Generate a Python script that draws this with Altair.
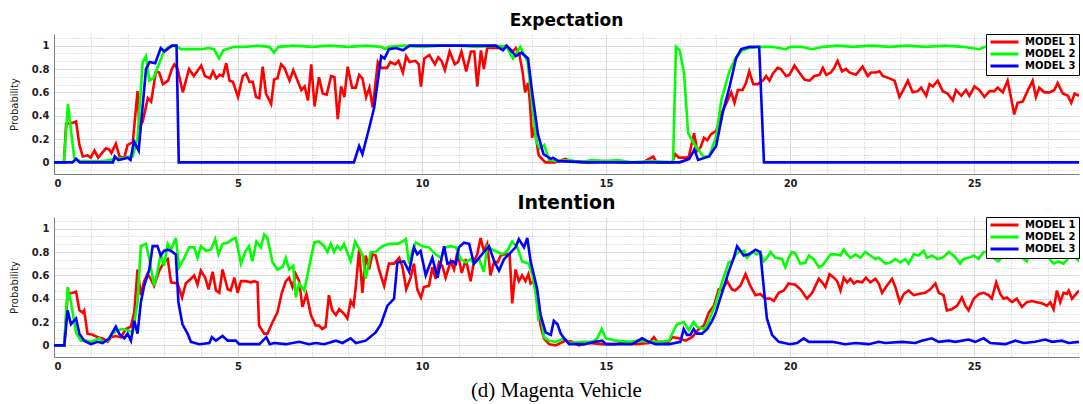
import altair as alt
import pandas as pd

MODELS = ["MODEL 1", "MODEL 2", "MODEL 3"]
COLORS = ["#ff0000", "#00ff00", "#0000ff"]
PANELS = ["Expectation", "Intention"]
CAPTION = "(d) Magenta Vehicle"

# ---------------- Expectation ----------------
EXP_M1 = [(0,0),(0.27,0),(0.33,0.33),(0.51,0.34),(0.6,0.35),(0.69,0.15),(0.78,0.05),(0.91,0.06),(1.0,0.04),(1.1,0.1),(1.2,0.04),(1.41,0.12),(1.5,0.11),(1.56,0.08),(1.68,0.16),(1.78,0.05),(1.91,0.04),(2.0,0.15),(2.14,0.17),(2.27,0.61),(2.32,0.3),(2.41,0.35),(2.55,0.55),(2.64,0.52),(2.77,0.78),(2.86,0.77),(2.96,0.67),(3.1,0.7),(3.2,0.8),(3.27,0.84),(3.36,0.8),(3.5,0.6),(3.6,0.72),(3.67,0.8),(3.8,0.74),(4.0,0.83),(4.1,0.74),(4.24,0.72),(4.32,0.78),(4.41,0.72),(4.5,0.75),(4.59,0.74),(4.68,0.85),(4.77,0.7),(4.86,0.69),(5.0,0.56),(5.13,0.74),(5.22,0.76),(5.31,0.69),(5.4,0.69),(5.49,0.56),(5.58,0.55),(5.67,0.82),(5.76,0.59),(5.9,0.5),(5.98,0.71),(6.07,0.72),(6.17,0.84),(6.26,0.81),(6.4,0.7),(6.5,0.79),(6.62,0.7),(6.72,0.62),(6.81,0.65),(6.9,0.53),(6.99,0.84),(7.08,0.48),(7.2,0.73),(7.3,0.59),(7.41,0.58),(7.53,0.74),(7.62,0.73),(7.71,0.37),(7.8,0.65),(7.89,0.56),(7.98,0.82),(8.1,0.64),(8.2,0.64),(8.29,0.75),(8.38,0.72),(8.48,0.56),(8.57,0.64),(8.66,0.47),(8.8,0.86),(8.89,0.81),(9.05,0.81),(9.14,0.86),(9.27,0.84),(9.36,0.87),(9.48,0.77),(9.57,0.91),(9.66,0.86),(9.82,0.87),(9.91,0.84),(9.97,0.65),(10.06,0.89),(10.2,0.92),(10.35,0.84),(10.44,0.9),(10.53,0.87),(10.62,0.79),(10.75,0.95),(10.89,0.84),(10.98,0.86),(11.07,0.95),(11.2,0.78),(11.33,0.95),(11.42,0.95),(11.5,0.65),(11.6,0.96),(11.68,0.8),(11.77,0.98),(11.9,0.98),(12.1,0.98),(12.28,1.0),(12.47,0.95),(12.55,0.98),(12.64,0.93),(12.73,0.78),(12.8,0.6),(12.88,0.68),(12.93,0.52),(12.99,0.21),(13.05,0.3),(13.17,0.06),(13.35,0),(13.6,0),(13.9,0.03),(14.05,0.01),(14.5,0),(15.0,0.01),(15.5,0),(16.0,0),(16.28,0.05),(16.37,0),(16.8,0),(16.88,0.07),(16.98,0.04),(17.16,0.04),(17.25,0.05),(17.39,0.25),(17.48,0.1),(17.57,0.13),(17.66,0.21),(17.75,0.19),(17.85,0.24),(17.99,0.27),(18.17,0.44),(18.26,0.5),(18.4,0.6),(18.49,0.51),(18.58,0.62),(18.71,0.62),(18.8,0.68),(18.89,0.78),(19.0,0.67),(19.12,0.67),(19.26,0.7),(19.35,0.74),(19.44,0.7),(19.53,0.76),(19.66,0.81),(19.75,0.8),(19.89,0.74),(19.98,0.75),(20.12,0.83),(20.25,0.77),(20.39,0.71),(20.53,0.7),(20.66,0.74),(20.8,0.75),(20.89,0.81),(20.98,0.75),(21.11,0.77),(21.2,0.81),(21.29,0.87),(21.41,0.78),(21.52,0.8),(21.61,0.77),(21.79,0.75),(21.97,0.82),(22.11,0.74),(22.2,0.77),(22.34,0.77),(22.43,0.78),(22.52,0.74),(22.7,0.72),(22.84,0.7),(22.97,0.56),(23.06,0.61),(23.2,0.7),(23.33,0.6),(23.47,0.61),(23.56,0.64),(23.7,0.57),(23.79,0.67),(23.88,0.65),(24.01,0.7),(24.15,0.61),(24.28,0.59),(24.42,0.53),(24.51,0.62),(24.65,0.57),(24.78,0.62),(24.87,0.57),(25.01,0.65),(25.14,0.62),(25.28,0.56),(25.42,0.61),(25.55,0.61),(25.64,0.64),(25.78,0.6),(25.91,0.7),(26.0,0.56),(26.09,0.41),(26.18,0.51),(26.32,0.52),(26.45,0.61),(26.59,0.7),(26.68,0.56),(26.77,0.64),(26.91,0.6),(27.05,0.6),(27.18,0.62),(27.27,0.68),(27.41,0.59),(27.55,0.57),(27.64,0.51),(27.73,0.59),(27.85,0.57)]

EXP_M2 = [(0,0),(0.27,0),(0.38,0.5),(0.47,0.25),(0.55,0.04),(0.7,0.01),(1.0,0.01),(1.3,0.01),(1.5,0.02),(1.7,0.03),(1.9,0.04),(2.05,0.05),(2.14,0.05),(2.27,0.21),(2.41,0.86),(2.5,0.91),(2.59,0.7),(2.7,0.72),(2.86,0.85),(3.0,0.96),(3.13,0.99),(3.3,1.0),(3.45,0.97),(3.7,0.97),(4.0,0.97),(4.2,0.98),(4.35,0.97),(4.48,0.89),(4.6,0.96),(4.68,0.97),(4.9,0.99),(5.2,0.99),(5.5,1.0),(5.85,0.99),(5.98,0.94),(6.1,0.99),(6.5,1.0),(7.0,0.99),(7.5,1.0),(8.0,0.99),(8.5,1.0),(8.9,0.99),(9.0,0.97),(9.1,0.99),(9.5,1.0),(10.0,0.99),(10.5,1.0),(11.0,1.0),(11.5,0.99),(12.0,1.0),(12.3,0.99),(12.47,0.89),(12.67,0.99),(12.87,0.86),(13.1,0.18),(13.2,0.12),(13.32,0.15),(13.45,0.02),(13.7,0.01),(14.0,0.02),(14.3,0.0),(14.6,0.02),(15.0,0.01),(15.3,0.02),(15.7,0.0),(16.2,0.01),(16.82,0),(16.9,0.99),(17.0,0.96),(17.12,0.76),(17.23,0.25),(17.37,0.17),(17.64,0.05),(17.8,0.05),(17.99,0.22),(18.13,0.53),(18.35,0.78),(18.53,0.9),(18.7,0.96),(18.9,0.98),(19.16,0.99),(19.5,0.99),(19.89,0.97),(20.0,0.99),(20.3,0.99),(20.6,0.97),(20.9,0.99),(21.3,1.0),(21.7,0.99),(22.2,1.0),(22.7,0.99),(23.2,1.0),(23.7,0.99),(24.2,1.0),(24.7,0.99),(25.14,0.97),(25.3,0.99),(25.8,1.0),(26.3,0.99),(26.8,0.98),(27.3,0.98),(27.85,0.97)]

EXP_M3 = [(0,0),(0.5,0),(0.6,0.03),(0.7,0),(1.6,0),(1.65,0.05),(1.75,0.02),(1.9,0.03),(2.0,0.04),(2.08,0.02),(2.17,0.18),(2.3,0.1),(2.5,0.8),(2.6,0.86),(2.75,0.85),(2.9,0.98),(3.0,0.95),(3.2,1.0),(3.33,1.0),(3.39,0),(8.15,0),(8.2,0.05),(8.29,0.14),(8.38,0.07),(8.56,0.29),(8.7,0.47),(8.89,0.91),(8.98,0.89),(9.1,0.97),(9.3,0.98),(9.48,0.96),(9.66,1.0),(10.0,1.0),(11.0,1.0),(12.0,1.0),(12.2,0.96),(12.3,1.0),(12.55,0.91),(12.7,0.94),(12.88,0.89),(13.0,0.58),(13.15,0.24),(13.3,0.07),(13.5,0.03),(13.56,0.04),(13.7,0.01),(14.5,0),(16.5,0),(17.0,0),(17.26,0.03),(17.4,0.11),(17.5,0.02),(17.8,0.05),(17.99,0.14),(18.18,0.44),(18.35,0.64),(18.53,0.89),(18.67,0.97),(18.9,0.99),(19.16,0.99),(19.29,0),(27.85,0)]

# ---------------- Intention ----------------
INT_M1 = [(0,0),(0.28,0),(0.37,0.44),(0.51,0.45),(0.6,0.46),(0.69,0.3),(0.78,0.28),(0.82,0.3),(0.91,0.1),(1.05,0.09),(1.19,0.07),(1.32,0.06),(1.46,0.03),(1.55,0.07),(1.68,0.08),(1.82,0.07),(1.95,0.14),(2.09,0.16),(2.18,0.28),(2.27,0.65),(2.36,0.43),(2.45,0.55),(2.54,0.61),(2.63,0.57),(2.72,0.51),(2.86,0.64),(3.0,0.72),(3.09,0.74),(3.18,0.54),(3.36,0.53),(3.48,0.41),(3.58,0.53),(3.72,0.57),(3.81,0.6),(3.9,0.52),(3.99,0.64),(4.11,0.58),(4.2,0.48),(4.31,0.63),(4.4,0.47),(4.49,0.45),(4.58,0.65),(4.72,0.48),(4.8,0.47),(4.9,0.58),(4.99,0.45),(5.08,0.55),(5.21,0.55),(5.35,0.54),(5.44,0.55),(5.53,0.54),(5.57,0.17),(5.71,0.1),(5.8,0.1),(5.94,0.2),(6.07,0.28),(6.19,0.45),(6.3,0.55),(6.39,0.58),(6.48,0.5),(6.57,0.61),(6.66,0.55),(6.75,0.33),(6.86,0.44),(6.98,0.26),(7.11,0.17),(7.2,0.17),(7.29,0.14),(7.38,0.16),(7.47,0.43),(7.56,0.3),(7.66,0.26),(7.75,0.31),(7.88,0.27),(7.97,0.23),(8.06,0.38),(8.14,0.34),(8.2,0.5),(8.29,0.82),(8.38,0.45),(8.47,0.77),(8.56,0.65),(8.65,0.78),(8.74,0.77),(8.83,0.65),(8.97,0.51),(9.1,0.7),(9.24,0.7),(9.38,0.75),(9.47,0.67),(9.57,0.48),(9.69,0.58),(9.78,0.7),(9.87,0.48),(9.97,0.41),(10.05,0.5),(10.19,0.51),(10.28,0.67),(10.37,0.57),(10.46,0.71),(10.55,0.68),(10.64,0.58),(10.78,0.72),(10.87,0.65),(10.96,0.8),(11.08,0.62),(11.19,0.74),(11.32,0.55),(11.41,0.72),(11.5,0.78),(11.59,0.92),(11.68,0.81),(11.77,0.87),(11.86,0.6),(11.96,0.72),(12.05,0.71),(12.14,0.77),(12.27,0.78),(12.38,0.78),(12.45,0.36),(12.54,0.65),(12.63,0.55),(12.72,0.6),(12.81,0.55),(12.89,0.61),(12.95,0.53),(13.04,0.55),(13.13,0.43),(13.22,0.17),(13.31,0.06),(13.45,0.01),(13.63,0.0),(13.9,0.04),(14.08,0.03),(14.26,0),(14.54,0.02),(14.9,0.01),(15.26,0.01),(15.53,0.03),(15.8,0.01),(16.17,0.02),(16.3,0.07),(16.39,0.03),(16.7,0.03),(16.8,0.07),(16.98,0.06),(17.16,0.04),(17.34,0.07),(17.52,0.14),(17.66,0.17),(17.79,0.28),(17.93,0.34),(18.06,0.48),(18.15,0.47),(18.29,0.55),(18.42,0.48),(18.51,0.47),(18.65,0.51),(18.79,0.61),(18.92,0.51),(19.06,0.43),(19.19,0.44),(19.33,0.4),(19.46,0.4),(19.56,0.38),(19.69,0.45),(19.83,0.47),(19.96,0.53),(20.14,0.52),(20.28,0.48),(20.37,0.44),(20.46,0.4),(20.6,0.45),(20.78,0.57),(20.87,0.54),(20.96,0.5),(21.07,0.61),(21.19,0.58),(21.28,0.55),(21.37,0.47),(21.46,0.58),(21.55,0.54),(21.64,0.57),(21.73,0.53),(21.82,0.55),(21.96,0.54),(22.06,0.58),(22.18,0.54),(22.32,0.57),(22.41,0.53),(22.5,0.45),(22.63,0.51),(22.77,0.57),(22.86,0.5),(22.98,0.37),(23.09,0.44),(23.22,0.47),(23.36,0.43),(23.49,0.44),(23.67,0.45),(23.81,0.48),(23.95,0.53),(24.04,0.45),(24.17,0.43),(24.26,0.3),(24.4,0.31),(24.54,0.34),(24.67,0.41),(24.76,0.34),(24.85,0.3),(24.99,0.4),(25.13,0.44),(25.26,0.45),(25.39,0.43),(25.48,0.4),(25.6,0.54),(25.71,0.44),(25.8,0.4),(25.89,0.41),(26.03,0.37),(26.16,0.4),(26.3,0.33),(26.43,0.37),(26.57,0.38),(26.7,0.37),(26.84,0.36),(26.98,0.34),(27.07,0.37),(27.16,0.31),(27.25,0.47),(27.34,0.37),(27.43,0.45),(27.52,0.44),(27.57,0.47),(27.66,0.4),(27.85,0.47)]

INT_M2 = [(0,0),(0.28,0),(0.37,0.5),(0.46,0.37),(0.6,0.11),(0.73,0.04),(0.87,0.04),(1.0,0.03),(1.23,0.06),(1.32,0.03),(1.46,0.04),(1.59,0.1),(1.73,0.13),(1.86,0.14),(2.0,0.13),(2.14,0.11),(2.27,0.37),(2.36,0.85),(2.5,0.87),(2.59,0.74),(2.72,0.51),(2.81,0.63),(2.9,0.78),(2.99,0.68),(3.09,0.87),(3.18,0.82),(3.31,0.92),(3.4,0.67),(3.54,0.75),(3.67,0.84),(3.81,0.84),(3.9,0.75),(3.99,0.85),(4.13,0.81),(4.26,0.82),(4.38,0.91),(4.47,0.78),(4.58,0.87),(4.72,0.88),(4.85,0.91),(4.94,0.92),(5.08,0.7),(5.21,0.81),(5.3,0.85),(5.39,0.72),(5.5,0.89),(5.62,0.84),(5.71,0.95),(5.8,0.92),(5.94,0.71),(6.07,0.65),(6.21,0.67),(6.3,0.75),(6.39,0.65),(6.5,0.68),(6.57,0.41),(6.66,0.53),(6.8,0.47),(6.93,0.67),(7.07,0.88),(7.2,0.89),(7.34,0.85),(7.43,0.8),(7.52,0.87),(7.61,0.8),(7.7,0.85),(7.79,0.82),(7.88,0.87),(8.06,0.72),(8.18,0.89),(8.38,0.78),(8.47,0.57),(8.61,0.8),(8.74,0.8),(8.92,0.85),(9.1,0.87),(9.33,0.87),(9.47,0.89),(9.56,0.91),(9.65,0.7),(9.74,0.81),(9.83,0.88),(10.01,0.85),(10.19,0.84),(10.37,0.78),(10.51,0.75),(10.64,0.84),(10.78,0.85),(10.92,0.84),(11.05,0.74),(11.19,0.71),(11.32,0.74),(11.41,0.7),(11.55,0.74),(11.68,0.63),(11.77,0.85),(11.91,0.82),(12.05,0.8),(12.18,0.78),(12.32,0.81),(12.45,0.89),(12.59,0.84),(12.72,0.72),(12.9,0.7),(13.0,0.6),(13.09,0.44),(13.16,0.23),(13.23,0.26),(13.31,0.07),(13.45,0.04),(13.63,0.03),(13.86,0.06),(14.0,0.02),(14.36,0.03),(14.63,0.03),(14.76,0.06),(14.88,0.14),(14.99,0.06),(15.26,0.04),(15.62,0.03),(15.89,0.04),(16.17,0.03),(16.44,0.03),(16.71,0.04),(16.84,0.13),(16.93,0.18),(17.11,0.2),(17.25,0.13),(17.38,0.2),(17.47,0.16),(17.66,0.14),(17.75,0.18),(17.88,0.28),(17.97,0.35),(18.15,0.54),(18.33,0.71),(18.42,0.72),(18.52,0.78),(18.61,0.8),(18.75,0.81),(18.83,0.75),(18.97,0.8),(19.1,0.78),(19.19,0.8),(19.28,0.72),(19.37,0.75),(19.47,0.8),(19.6,0.75),(19.78,0.74),(19.87,0.67),(19.96,0.75),(20.05,0.8),(20.14,0.79),(20.28,0.7),(20.42,0.71),(20.51,0.77),(20.64,0.74),(20.78,0.67),(20.87,0.68),(20.96,0.72),(21.1,0.78),(21.23,0.78),(21.37,0.77),(21.46,0.82),(21.55,0.78),(21.64,0.75),(21.78,0.78),(21.91,0.75),(22.04,0.8),(22.18,0.77),(22.32,0.74),(22.41,0.75),(22.59,0.7),(22.73,0.71),(22.86,0.74),(23.0,0.71),(23.13,0.74),(23.22,0.7),(23.36,0.78),(23.49,0.77),(23.63,0.81),(23.72,0.75),(23.86,0.77),(24.0,0.74),(24.13,0.75),(24.22,0.77),(24.31,0.8),(24.44,0.77),(24.53,0.74),(24.62,0.7),(24.71,0.74),(24.85,0.75),(24.99,0.77),(25.12,0.74),(25.26,0.8),(25.39,0.8),(25.53,0.75),(25.66,0.72),(25.8,0.77),(25.93,0.82),(26.07,0.77),(26.16,0.8),(26.3,0.75),(26.43,0.72),(26.53,0.81),(26.62,0.75),(26.75,0.78),(26.89,0.81),(27.03,0.75),(27.16,0.7),(27.29,0.72),(27.43,0.7),(27.57,0.75),(27.7,0.78),(27.85,0.72)]

INT_M3 = [(0,0),(0.28,0),(0.37,0.3),(0.46,0.18),(0.6,0.23),(0.69,0.1),(0.82,0.04),(1.0,0.01),(1.19,0.03),(1.32,0.02),(1.5,0.06),(1.59,0.11),(1.68,0.16),(1.77,0.1),(1.91,0.06),(2.0,0.1),(2.09,0.04),(2.18,0.21),(2.27,0.1),(2.36,0.37),(2.45,0.51),(2.59,0.65),(2.68,0.85),(2.81,0.85),(2.9,0.77),(2.99,0.81),(3.09,0.82),(3.18,0.81),(3.31,0.78),(3.38,0.37),(3.49,0.18),(3.63,0.1),(3.72,0.03),(3.95,0.01),(4.22,0.02),(4.29,0.07),(4.4,0.04),(4.58,0.08),(4.72,0.04),(4.94,0.04),(5.03,0.01),(5.3,0.01),(5.58,0.01),(5.77,0.07),(5.86,0.01),(5.98,0.02),(6.3,0.01),(6.66,0.03),(6.93,0.01),(7.11,0.02),(7.34,0.01),(7.66,0.04),(7.84,0.02),(8.06,0.06),(8.2,0.02),(8.47,0.04),(8.74,0.11),(8.88,0.18),(9.06,0.34),(9.24,0.4),(9.33,0.71),(9.51,0.72),(9.65,0.63),(9.78,0.84),(9.87,0.78),(9.96,0.81),(10.1,0.6),(10.28,0.75),(10.42,0.58),(10.6,0.85),(10.69,0.7),(10.83,0.72),(10.92,0.7),(11.0,0.84),(11.14,0.88),(11.28,0.87),(11.41,0.7),(11.55,0.75),(11.68,0.8),(11.82,0.85),(11.96,0.72),(12.09,0.64),(12.23,0.74),(12.36,0.78),(12.54,0.84),(12.63,0.91),(12.77,0.84),(12.86,0.92),(12.95,0.72),(13.04,0.6),(13.13,0.48),(13.22,0.26),(13.36,0.11),(13.5,0.09),(13.58,0.21),(13.68,0.18),(13.77,0.1),(13.86,0.06),(14.0,0.01),(14.4,0.01),(14.7,0.03),(14.9,0.04),(14.99,0.01),(15.4,0.01),(15.71,0.01),(15.98,0.06),(16.16,0.03),(16.35,0.01),(16.71,0.01),(17.02,0.03),(17.11,0.14),(17.2,0.09),(17.29,0.09),(17.38,0.14),(17.47,0.1),(17.61,0.1),(17.75,0.14),(17.88,0.21),(17.97,0.27),(18.15,0.45),(18.33,0.63),(18.47,0.75),(18.56,0.85),(18.74,0.77),(18.88,0.78),(19.06,0.82),(19.19,0.8),(19.28,0.51),(19.37,0.23),(19.51,0.09),(19.69,0.03),(20.0,0.01),(20.19,0.02),(20.37,0.06),(20.51,0.03),(20.87,0.03),(21.14,0.03),(21.5,0.01),(21.78,0.02),(22.14,0.01),(22.41,0.03),(22.59,0.02),(23.04,0.03),(23.4,0.02),(23.58,0.04),(23.85,0.06),(24.04,0.03),(24.31,0.04),(24.49,0.03),(24.85,0.05),(25.03,0.03),(25.26,0.06),(25.44,0.02),(25.85,0.01),(26.12,0.04),(26.35,0.02),(26.66,0.03),(26.93,0.05),(27.12,0.03),(27.38,0.04),(27.57,0.02),(27.85,0.03)]

X_DOMAIN = [0, 27.85]
Y_DOMAIN = [-0.1, 1.1]
X_GRID = list(range(0, 28))                        # minor every 1, major every 5
Y_GRID = [round(k * 0.2 / 3, 5) for k in range(-1, 17)]  # minor every 1/15, major every 0.2

MAJOR_X = "datum.value % 5 === 0"
MAJOR_Y = "abs(datum.value * 5 - round(datum.value * 5)) < 0.001"

# legend line symbol: a horizontal stroke drawn to the right of the entry origin
LEGEND_STROKE = "M-1,0L7,0"


def frame(series):
    rows = []
    for model, pts in zip(MODELS, series):
        for i, (t, p) in enumerate(pts):
            rows.append({"t": t, "p": p, "model": model, "i": i})
    return pd.DataFrame(rows)


def panel(title, series, title_size):
    df = frame(series)
    x = alt.X(
        "t:Q",
        scale=alt.Scale(domain=X_DOMAIN, nice=False, zero=False),
        axis=alt.Axis(
            values=X_GRID,
            labelExpr=f"{MAJOR_X} ? datum.label : ''",
            title=None,
            grid=True,
            gridColor={"condition": {"test": MAJOR_X, "value": "#dadada"}, "value": "#c4c4c4"},
            gridDash={"condition": {"test": MAJOR_X, "value": []}, "value": [1, 2]},
            gridWidth=1,
            ticks=False,
            labelOverlap=False,
            labelPadding=4,
            labelFont="DejaVu Sans",
            labelFontWeight="bold",
            labelFontSize=10,
            labelColor="#222222",
            domainColor="#808080",
        ),
    )
    y = alt.Y(
        "p:Q",
        scale=alt.Scale(domain=Y_DOMAIN, nice=False, zero=False),
        axis=alt.Axis(
            values=Y_GRID,
            labelExpr=f"{MAJOR_Y} ? format(datum.value, '.1~f') : ''",
            title="Probability",
            titleFont="DejaVu Sans",
            titleFontSize=10,
            titleFontWeight="normal",
            titleColor="#222222",
            titlePadding=12,
            grid=True,
            gridColor={"condition": {"test": MAJOR_Y, "value": "#dadada"}, "value": "#c4c4c4"},
            gridDash={"condition": {"test": MAJOR_Y, "value": []}, "value": [1, 2]},
            gridWidth=1,
            ticks=False,
            labelOverlap=False,
            labelPadding=5,
            labelFont="DejaVu Sans",
            labelFontWeight="bold",
            labelFontSize=10,
            labelColor="#222222",
            domainColor="#808080",
        ),
    )
    color = alt.Color(
        "model:N",
        scale=alt.Scale(domain=MODELS, range=COLORS),
        legend=alt.Legend(
            orient="top-right",
            offset=0,
            title=None,
            strokeColor="black",
            fillColor="white",
            padding=3,
            symbolType=LEGEND_STROKE,
            symbolStrokeWidth=3,
            symbolSize=49,
            labelFont="DejaVu Sans",
            labelFontWeight="bold",
            labelFontSize=10,
            labelColor="black",
            rowPadding=0,
            labelOffset=26,
        ),
    )
    return (
        alt.Chart(df)
        .mark_line(strokeWidth=2.6, clip=True)
        .encode(x=x, y=y, color=color, order="i:Q")
        .properties(
            width=1025,
            height=140,
            title=alt.TitleParams(
                title,
                font="DejaVu Sans",
                fontSize=title_size,
                fontWeight="bold",
                color="black",
                anchor="middle",
                offset=3,
            ),
        )
    )


top = panel(PANELS[0], [EXP_M1, EXP_M2, EXP_M3], 17)
bottom = panel(PANELS[1], [INT_M1, INT_M2, INT_M3], 19)

chart = (
    alt.vconcat(top, bottom, spacing=5)
    .resolve_legend(color="independent")
    .properties(
        padding={"left": 9, "top": 11, "right": 0, "bottom": 4},
        background="white",
        title=alt.TitleParams(
            CAPTION,
            orient="bottom",
            anchor="middle",
            font="Liberation Serif",
            fontSize=21,
            fontWeight="normal",
            color="black",
            offset=9,
            dx=12,
        ),
    )
    .configure_view(stroke=None)
)

chart.save("out.html", embed_options={"renderer": "svg", "actions": False})
